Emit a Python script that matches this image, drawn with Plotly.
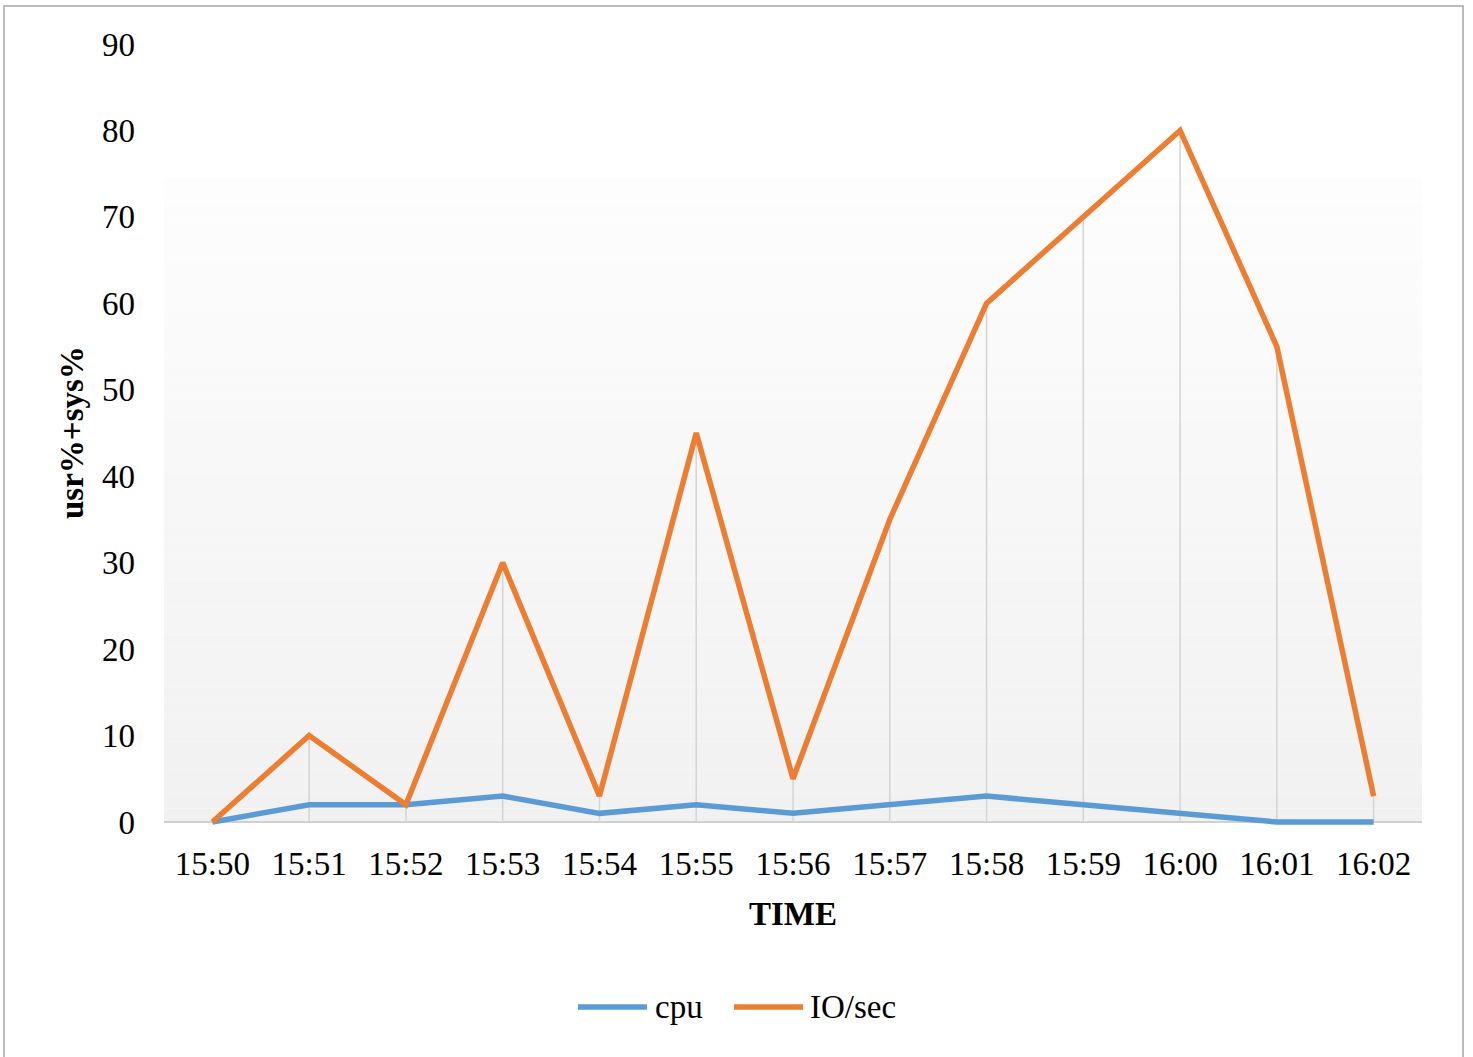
import plotly.graph_objects as go

# Sampling times and the two measured series
times = ["15:50", "15:51", "15:52", "15:53", "15:54", "15:55", "15:56",
         "15:57", "15:58", "15:59", "16:00", "16:01", "16:02"]
cpu = [0, 2, 2, 3, 1, 2, 1, 2, 3, 2, 1, 0, 0]
io_sec = [0, 10, 2, 30, 3, 45, 5, 35, 60, 70, 80, 55, 3]
y_ticks = [0, 10, 20, 30, 40, 50, 60, 70, 80, 90]

CPU_COLOR = "#5B9BD5"
IO_COLOR = "#ED7D31"
FONT = "Liberation Serif"

W, H = 1473, 1057
AXIS_PX = 822          # pixel row of the value axis origin
TOP_PX = 44            # pixel row of the top tick
PAD_PX = 4             # room below the origin so the zero-level lines are not clipped
L, R, T, B = 164, 51, TOP_PX, H - AXIS_PX - PAD_PX
PW, PH = W - L - R, H - T - B
y_min = -PAD_PX * y_ticks[-1] / (AXIS_PX - TOP_PX)


def px_x(p):
    return (p - L) / PW


def px_y(p):
    return (H - B - p) / PH


fig = go.Figure()

# drop lines from the highest point of each category down to the axis
dx, dy = [], []
for t, a, b in zip(times, cpu, io_sec):
    dx += [t, t, None]
    dy += [0, max(a, b), None]
fig.add_trace(go.Scatter(x=dx, y=dy, mode="lines", hoverinfo="skip",
                         line=dict(color="#d4d4d4", width=1.5), showlegend=False))

fig.add_trace(go.Scatter(x=times, y=cpu, name="cpu", mode="lines",
                         line=dict(color=CPU_COLOR, width=5.5), showlegend=False))
fig.add_trace(go.Scatter(x=times, y=io_sec, name="IO/sec", mode="lines",
                         line=dict(color=IO_COLOR, width=5.5), showlegend=False))

shapes = []
# soft vertical gradient behind the lower part of the plot area
top_px, bot_px = 178, AXIS_PX
n = 48
for i in range(n):
    y0 = top_px + (bot_px - top_px) * i / n
    y1 = top_px + (bot_px - top_px) * (i + 1) / n
    f = (i + 0.5) / n
    c = round(253 - (253 - 241) * f)
    shapes.append(dict(type="rect", xref="paper", yref="paper", layer="below",
                       x0=0, x1=1, y0=px_y(y1), y1=px_y(y0),
                       fillcolor=f"rgb({c},{c},{c})", line=dict(width=0)))

# outer chart frame
shapes.append(dict(type="rect", xref="paper", yref="paper",
                   x0=px_x(4), x1=px_x(1463), y0=px_y(1062), y1=px_y(6),
                   line=dict(color="#a6a6a6", width=1.5), fillcolor="rgba(0,0,0,0)"))

annotations = [
    dict(text="<b>usr%+sys%</b>", xref="paper", yref="paper", x=px_x(72), y=px_y(433),
         textangle=-90, showarrow=False, xanchor="center", yanchor="middle",
         font=dict(family=FONT, size=33, color="black")),
    dict(text="<b>TIME</b>", xref="paper", yref="paper", x=px_x(793), y=px_y(914),
         showarrow=False, xanchor="center", yanchor="middle",
         font=dict(family=FONT, size=33, color="black")),
]

# legend: line swatch followed by the series name
legend_items = [("cpu", CPU_COLOR, 578, 647, 653), ("IO/sec", IO_COLOR, 734, 803, 808)]
for name, color, lx0, lx1, tx in legend_items:
    shapes.append(dict(type="line", xref="paper", yref="paper",
                       x0=px_x(lx0), x1=px_x(lx1), y0=px_y(1007), y1=px_y(1007),
                       line=dict(color=color, width=5.5)))
    annotations.append(dict(text=name, xref="paper", yref="paper", x=px_x(tx), y=px_y(1007),
                            showarrow=False, xanchor="left", yanchor="middle",
                            font=dict(family=FONT, size=33, color="black")))

fig.update_layout(
    width=W, height=H,
    margin=dict(l=L, r=R, t=T, b=B),
    paper_bgcolor="white", plot_bgcolor="rgba(0,0,0,0)",
    font=dict(family=FONT, size=33, color="black"),
    shapes=shapes, annotations=annotations,
    xaxis=dict(type="category", range=[-0.5, len(times) - 0.5],
               showgrid=False, zeroline=False, showline=False, ticks="",
               ticklabelstandoff=15, tickfont=dict(family=FONT, size=33)),
    yaxis=dict(range=[y_min, y_ticks[-1]], tickvals=y_ticks, showgrid=False,
               zeroline=True, zerolinecolor="#d0d0d0", zerolinewidth=1.5,
               showline=False, ticks="", ticklabelstandoff=28,
               tickfont=dict(family=FONT, size=33)),
)

fig.write_html("out.html")
